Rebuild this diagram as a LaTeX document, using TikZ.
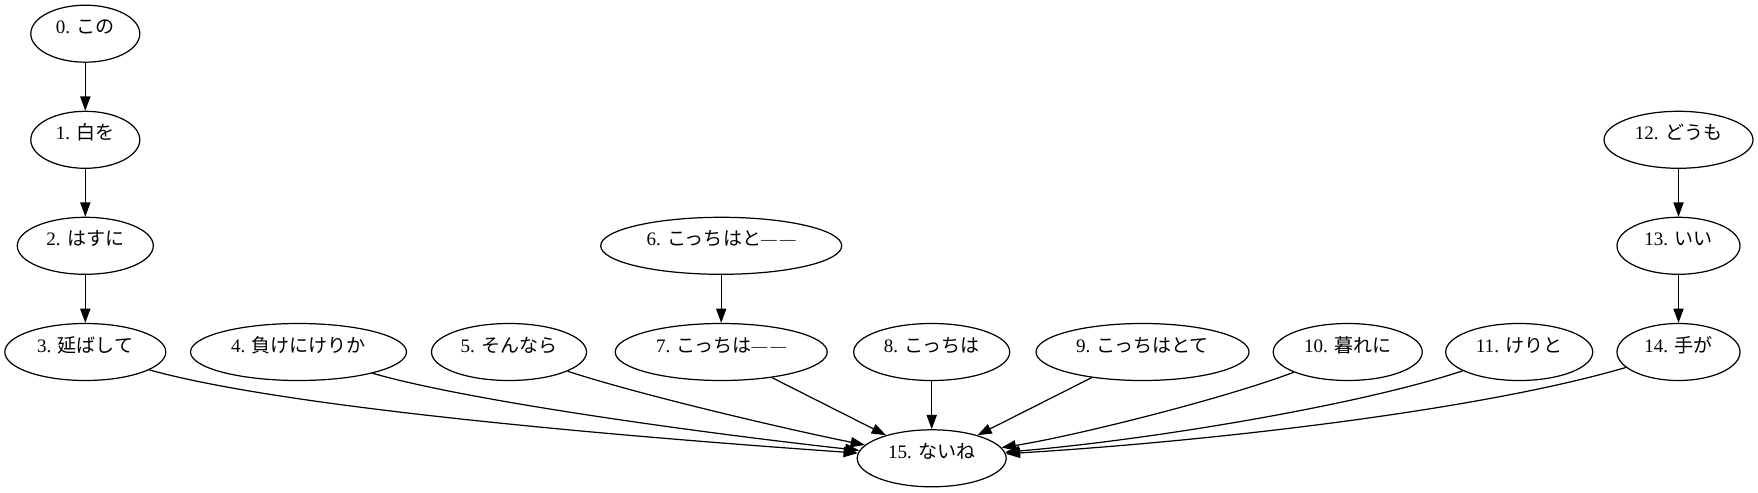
\documentclass[tikz,border=0pt]{standalone}
\usepackage{fontspec}
\setmainfont{Liberation Serif}
\newfontfamily\cjk{Noto Sans CJK JP}
\newcommand{\dashpair}{{\fontsize{11.5}{12}\selectfont\raisebox{0.6pt}{—}\kern2.5pt\raisebox{0.6pt}{—}}}
\usetikzlibrary{arrows.meta,shapes.geometric}
\begin{document}
\begin{tikzpicture}[x=0.735pt,y=-0.735pt,
  nd/.style={draw,ellipse,line width=0.9pt,inner sep=0pt,
    minimum height={57*0.735pt},font=\fontsize{14}{16}\selectfont,
    text height=7pt,text depth=7pt},
  wd/.style={minimum width={#1*0.735pt}},
  arr/.style={draw,line width=0.9pt,-{Triangle[length=10.5pt,width=7.5pt]}}]
\fill[white] (0,0) rectangle (1758,493);
\useasboundingbox (0,0) rectangle (1758,493);
% nodes
\node[nd,wd=109] (n0) at (85.3,33.7) {0. {\cjk この}};
\node[nd,wd=109] (n1) at (85.3,139.8) {1. {\cjk 白を}};
\node[nd,wd=136] (n2) at (85.3,245.8) {2. {\cjk はすに}};
\node[nd,wd=161] (n3) at (85.3,352) {3. {\cjk 延ばして}};
\node[nd,wd=216] (n4) at (298.5,352) {4. {\cjk 負けにけりか}};
\node[nd,wd=155] (n5) at (509,352) {5. {\cjk そんなら}};
\node[nd,wd=241] (n6) at (721.2,245.8) {6. {\cjk こっちはと}\dashpair};
\node[nd,wd=212] (n7) at (721.2,352) {7. {\cjk こっちは}\dashpair};
\node[nd,wd=156] (n8) at (931.7,352) {8. {\cjk こっちは}};
\node[nd,wd=213] (n9) at (1142.5,352) {9. {\cjk こっちはとて}};
\node[nd,wd=149] (n10) at (1347.7,352) {10. {\cjk 暮れに}};
\node[nd,wd=147] (n11) at (1519.2,352) {11. {\cjk けりと}};
\node[nd,wd=149] (n12) at (1678.5,139.8) {12. {\cjk どうも}};
\node[nd,wd=123] (n13) at (1678.5,245.8) {13. {\cjk いい}};
\node[nd,wd=123] (n14) at (1678.5,352) {14. {\cjk 手が}};
\node[nd,wd=149] (n15) at (931.7,458.3) {15. {\cjk ないね}};
% straight edges
\draw[arr] (n0) -- (n1);
\draw[arr] (n1) -- (n2);
\draw[arr] (n2) -- (n3);
\draw[arr] (n6) -- (n7);
\draw[arr] (n12) -- (n13);
\draw[arr] (n13) -- (n14);
\draw[arr] (n7) -- (n15);
\draw[arr] (n8) -- (n15);
\draw[arr] (n9) -- (n15);
% curved edges
\draw[arr] (n3) .. controls (293,410) and (658,439) .. (n15);
\draw[arr] (n4) .. controls (476,403) and (728,436) .. (n15);
\draw[arr] (n5) .. controls (640,395) and (790,430) .. (n15);
\draw[arr] (n10) .. controls (1220,400) and (1070,437) .. (n15);
\draw[arr] (n11) .. controls (1360,405) and (1150,440) .. (n15);
\draw[arr] (n14) .. controls (1481,410) and (1215,441) .. (n15);
\end{tikzpicture}
\end{document}
